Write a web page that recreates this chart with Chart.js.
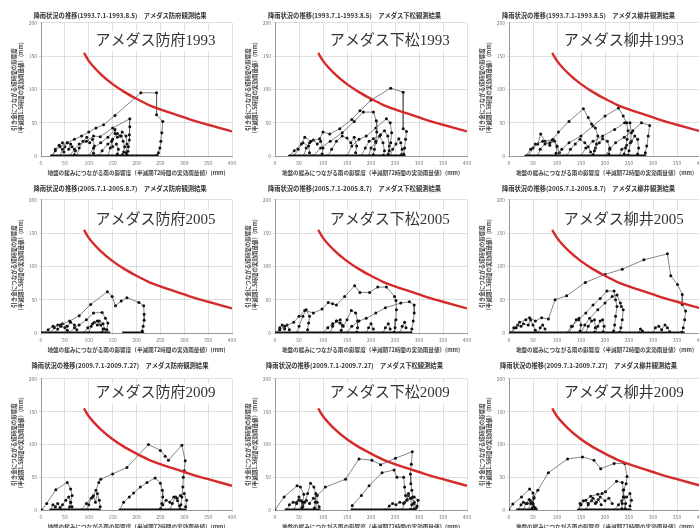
<!DOCTYPE html>
<html>
<head>
<meta charset="utf-8">
<script src="https://cdn.jsdelivr.net/npm/chart.js@4"></script>
<style>
  html, body { margin: 0; padding: 0; background: #fff; overflow: hidden; width: 699px; height: 528px; }
  canvas { position: absolute; }
</style>
</head>
<body>
<script>
// axis ticks
const xTickValues = [0, 50, 100, 150, 200, 250, 300, 350, 400];
const yTickValues = [0, 50, 100, 150, 200];

const stations = ['防府', '下松', '柳井'];
const years = ['1993', '2005', '2009'];
const periods = ['1993.7.1-1993.8.5', '2005.7.1-2005.8.7', '2009.7.1-2009.7.27'];

const xTitle = '地盤の緩みにつながる雨の影響度（半減期72時間の実効雨量値）(mm)';
const yTitle = ['引き金につながる短時間の影響度', '（半減期1.5時間の実効雨量値）(mm)'];

// critical line (red)
const criticalX = [90, 100, 125, 150, 175, 200, 225, 250, 275, 300, 325, 350, 375, 400];
const criticalY = [155, 143, 123, 108, 96, 86, 77, 70, 64, 58, 52, 47, 42, 37];

// snake traces [x, y] per panel
const hofu1993 = [
  [[22,0],[30,8],[40,14],[55,20],[70,25],[85,30],[100,36],[115,42],[131,47],[155,61],[209,95],[242,95],[242,62],[255,52],[253,35],[251,22],[249,12],[246,5],[243,1]],
  [[60,0],[70,10],[80,18],[95,22],[110,30],[124,29],[150,42],[186,56],[186,44],[185,32],[185,24],[183,14],[182,7],[180,2]],
  [[100,0],[110,12],[125,20],[140,28],[155,40],[155,34],[160,28],[168,30],[172,22],[175,14],[173,6],[170,2]],
  [[40,0],[45,10],[55,20],[62,18],[58,10],[65,14],[72,8],[70,2]],
  [[120,0],[128,8],[140,18],[148,22],[150,14],[158,18],[162,10],[160,3]],
  [[25,0],[30,10],[38,16],[45,20],[50,14],[48,6]],
  [[75,0],[80,12],[88,22],[96,28],[102,20],[108,25],[112,15],[110,4]],
  [[140,0],[145,12],[150,25],[160,34],[165,30],[170,36],[178,30],[180,18],[178,5]]
];
const hofu1993Base = [[20, 246]];

const kudamatsu1993 = [
  [[30,0],[40,8],[55,18],[62,28],[75,22],[93,26],[100,36],[114,33],[135,41],[160,55],[177,68],[200,84],[241,102],[267,96],[267,41],[274,37],[272,25],[270,12],[268,3]],
  [[80,0],[95,12],[115,22],[140,35],[165,52],[184,66],[205,66],[211,53],[212,36],[210,22],[207,10],[205,2]],
  [[150,0],[160,15],[175,25],[190,30],[210,42],[232,56],[240,50],[243,35],[241,20],[238,8],[236,1]],
  [[110,0],[118,10],[128,22],[140,30],[150,27],[158,20],[165,28],[170,15],[168,5]],
  [[180,0],[188,12],[196,22],[205,26],[218,30],[225,20],[228,8],[226,1]],
  [[40,0],[48,10],[58,20],[70,15],[72,5]],
  [[60,0],[65,12],[72,20],[80,24],[88,18],[95,22],[100,12],[98,3]],
  [[195,0],[200,12],[210,20],[220,32],[228,38],[235,30],[238,15],[236,3]],
  [[240,0],[245,10],[252,18],[258,26],[262,20],[265,10],[263,2]]
];
const kudamatsu1993Base = [[30, 272]];

const yanai1993 = [
  [[35,0],[45,10],[55,18],[70,22],[90,24],[103,36],[125,52],[155,71],[165,58],[172,48],[180,42],[185,30],[182,18],[178,8],[175,2]],
  [[100,0],[110,10],[125,20],[150,30],[175,45],[200,60],[228,72],[238,60],[245,50],[248,38],[246,25],[243,12],[240,3]],
  [[150,0],[160,12],[175,22],[195,30],[220,40],[241,50],[252,50],[255,35],[253,20],[250,8],[248,1]],
  [[200,0],[210,10],[222,20],[240,28],[258,38],[276,50],[293,46],[290,30],[287,15],[284,5],[282,0]],
  [[40,0],[50,12],[60,18],[66,33],[75,22],[85,16],[92,25],[100,15],[105,5]],
  [[120,0],[128,10],[138,18],[148,25],[158,20],[165,14],[170,6]],
  [[60,0],[65,10],[75,18],[85,20],[95,22],[100,14],[98,4]],
  [[175,0],[180,12],[188,20],[195,26],[205,22],[210,12],[208,3]],
  [[230,0],[235,10],[245,16],[255,22],[262,30],[268,25],[270,12],[268,3]]
];
const yanai1993Base = [[35, 286]];

const hofu2005 = [
  [[5,0],[15,5],[25,10],[40,12],[60,18],[80,26],[104,43],[139,62],[149,55],[156,41],[168,48],[180,53],[205,46],[215,41],[216,28],[216,19],[214,10],[212,3],[210,0]],
  [[60,0],[70,8],[80,12],[95,20],[110,30],[128,31],[135,22],[140,15],[138,5],[136,0]],
  [[20,0],[28,8],[35,12],[45,14],[55,10],[62,16],[70,12],[75,5]],
  [[90,0],[98,8],[108,14],[118,18],[125,12],[130,6],[128,1]],
  [[100,0],[105,10],[112,16],[118,12],[122,18],[130,14],[133,6]],
  [[30,0],[35,6],[42,10],[50,8],[55,4]]
];
const hofu2005Base = [[0, 145], [170, 216]];

const kudamatsu2005 = [
  [[0,0],[10,5],[20,10],[39,16],[50,25],[62,34],[80,30],[98,36],[111,46],[120,44],[128,42],[145,55],[166,71],[177,61],[197,61],[214,69],[232,69],[249,55],[252,49],[253,35],[252,20],[250,8],[248,1]],
  [[150,0],[160,10],[175,18],[190,22],[210,30],[230,38],[262,45],[280,47],[290,42],[290,30],[288,18],[285,6],[283,0]],
  [[45,0],[50,10],[58,25],[65,35],[72,25],[70,15],[68,5]],
  [[100,0],[110,8],[120,14],[128,18],[135,15],[142,10],[150,20],[159,34],[168,30],[172,18],[172,8],[170,1]],
  [[5,0],[10,8],[15,12],[20,6],[25,12],[30,5]],
  [[190,0],[195,8],[200,14],[205,6]],
  [[225,0],[230,8],[236,14],[240,6]],
  [[260,0],[265,10],[270,16],[273,8]],
  [[115,0],[120,10],[128,18],[136,20],[140,12],[138,4]]
];
const kudamatsu2005Base = [[0, 286]];

const yanai2005 = [
  [[5,0],[15,8],[22,16],[35,20],[43,23],[55,18],[68,23],[82,21],[96,50],[120,56],[159,76],[200,88],[236,96],[281,110],[330,119],[337,86],[351,73],[361,58],[361,43],[368,33],[366,20],[363,8],[360,1]],
  [[120,0],[130,10],[145,20],[160,30],[175,42],[190,52],[204,63],[219,63],[222,50],[225,40],[222,25],[220,12],[218,3]],
  [[150,0],[158,12],[168,22],[185,35],[200,45],[215,55],[225,57],[232,45],[234,40],[238,35],[236,20],[233,8],[231,1]],
  [[125,0],[132,10],[140,20],[146,22],[150,12],[148,3]],
  [[160,0],[165,10],[172,18],[178,20],[180,8],[178,1]],
  [[5,0],[10,8],[18,12],[25,10],[30,14],[40,12],[45,20],[50,12],[55,4]],
  [[300,0],[305,8],[312,10],[318,5],[325,12],[330,8],[335,2]],
  [[60,0],[65,8],[70,12],[75,6]],
  [[180,0],[185,10],[190,18],[195,20],[198,10],[196,2]],
  [[270,0],[274,6],[278,3]]
];
const yanai2005Base = [[0, 366]];

const hofu2009 = [
  [[2,0],[12,10],[31,31],[55,42],[62,32],[65,22],[62,12],[60,5],[58,0]],
  [[85,0],[95,10],[108,20],[115,30],[121,42],[125,47],[150,55],[180,65],[225,100],[250,91],[260,82],[267,76],[295,99],[302,75],[300,60],[298,50],[297,35],[295,20],[293,8],[291,1]],
  [[165,0],[173,12],[185,20],[194,26],[208,35],[222,42],[239,49],[250,41],[254,30],[255,20],[253,10],[250,2]],
  [[40,0],[45,8],[52,15],[58,20],[62,12],[65,5]],
  [[95,0],[100,8],[105,18],[110,22],[114,12],[118,25],[122,15],[124,5]],
  [[250,0],[255,8],[262,15],[270,12],[278,20],[285,18],[292,22],[300,25],[305,15],[303,5]],
  [[20,0],[25,8],[30,5],[35,10],[40,4]],
  [[270,0],[275,10],[282,20],[286,14],[290,6]]
];
const hofu2009Base = [[20, 125], [165, 305]];

const kudamatsu2009 = [
  [[0,0],[19,20],[46,37],[53,35],[60,24],[58,12],[56,4]],
  [[55,0],[62,12],[68,25],[74,41],[81,35],[85,25],[84,12],[82,3]],
  [[85,0],[88,22],[105,35],[147,47],[175,78],[202,76],[220,69],[251,79],[286,89],[284,70],[282,55],[283,40],[285,30],[287,20],[289,10],[290,2]],
  [[160,0],[161,7],[180,22],[196,37],[223,57],[248,61],[254,50],[268,50],[270,35],[272,22],[275,15],[278,25],[282,18],[285,8],[283,1]],
  [[25,0],[30,8],[38,12],[45,10],[50,15],[58,8],[65,15],[72,10],[80,18],[88,12],[92,5]],
  [[230,0],[238,6],[245,10],[252,8],[260,12],[268,10],[275,16],[290,20],[298,15],[296,6]],
  [[40,0],[45,12],[50,20],[55,14],[58,5]],
  [[265,0],[270,12],[278,22],[284,18],[290,12],[295,4]]
];
const kudamatsu2009Base = [[20, 95], [160, 295]];

const yanai2009 = [
  [[0,0],[8,9],[26,20],[43,32],[50,26],[52,18],[50,10],[48,3]],
  [[40,0],[45,10],[52,20],[60,30],[82,57],[122,78],[153,81],[177,76],[191,63],[219,71],[241,71],[246,51],[244,40],[239,31],[238,20],[236,10],[235,2]],
  [[145,0],[150,8],[160,15],[170,21],[185,24],[194,25],[201,28],[224,44],[236,42],[238,30],[240,20],[243,10],[242,2]],
  [[145,0],[148,10],[155,14],[165,10],[175,18],[182,12],[190,20],[200,14],[208,18],[215,10]],
  [[220,0],[228,8],[235,14],[245,20],[252,25],[255,15],[252,6]],
  [[20,0],[25,8],[30,12],[38,10],[45,14],[50,8],[55,3]],
  [[30,0],[35,10],[42,16],[48,12],[52,5]],
  [[160,0],[165,8],[172,14],[180,10],[186,16],[192,8]]
];
const yanai2009Base = [[15, 60], [145, 255]];

const FONT = '"Noto Sans CJK JP", "Noto Sans", sans-serif';
Chart.defaults.font.family = FONT;

// layout of the 9 plot areas
const colL = [41, 275, 509];
const colR = [232, 467, 701];
const rowT = [23, 200, 378.5];
const rowB = [156, 333.5, 509.5];
const rowPadT = [16, 20, 22];
const labelY = [173, 170, 178]; // station label position in data units
const padL = 33, padR = 8, padB = 20;

const stationLabel = {
  id: 'stationLabel',
  beforeDatasetsDraw(chart, args, opts) {
    const { ctx, scales: { x, y } } = chart;
    ctx.save();
    ctx.font = '15px "Liberation Serif", "Noto Sans CJK JP"';
    const px = x.getPixelForValue(opts.x);
    const py = y.getPixelForValue(opts.y);
    const w = ctx.measureText(opts.text).width;
    ctx.fillStyle = '#fff';
    ctx.fillRect(px - 3, py - 10, w + 6, 20);
    ctx.fillStyle = '#333';
    ctx.textBaseline = 'middle';
    ctx.fillText(opts.text, px, py);
    ctx.restore();
  }
};

function makePanel(traces, base, col, row) {
  const c = document.createElement('canvas');
  const padT = rowPadT[row];
  const w = colR[col] - colL[col] + padL + padR;
  const h = rowB[row] - rowT[row] + padT + padB;
  c.width = w;
  c.height = h;
  c.style.left = (colL[col] - padL) + 'px';
  c.style.top = (rowT[row] - padT) + 'px';
  document.body.appendChild(c);

  const datasets = [];
  datasets.push({
    data: criticalX.map((x, i) => ({ x: x, y: criticalY[i] })),
    showLine: true, borderColor: '#d42a2a', borderWidth: 2.4, pointRadius: 0,
    cubicInterpolationMode: 'monotone', order: 0
  });
  base.forEach(b => datasets.push({
    data: [{ x: b[0], y: 0 }, { x: b[1], y: 0 }],
    showLine: true, borderColor: '#111', borderWidth: 3, pointRadius: 0, order: 2
  }));
  traces.forEach(t => datasets.push({
    data: t.map(q => ({ x: q[0], y: q[1] })),
    showLine: true, borderColor: '#5e5e5e', borderWidth: 0.75,
    pointRadius: 1.5, pointBackgroundColor: '#111', pointBorderWidth: 0, order: 1
  }));

  const tickFont = { size: 5 };
  new Chart(c, {
    type: 'scatter',
    data: { datasets: datasets },
    plugins: [stationLabel],
    options: {
      responsive: false,
      animation: false,
      events: [],
      layout: { padding: { left: 0, top: 0, right: padR, bottom: 0 } },
      plugins: {
        legend: { display: false },
        tooltip: { enabled: false },
        title: {
          display: true,
          text: '降雨状況の推移(' + periods[row] + ')　アメダス' + stations[col] + '観測結果',
          font: { size: 6.3, weight: 'bold' },
          color: '#333',
          padding: { top: 4.5, bottom: padT - 12.1 }
        },
        stationLabel: { text: 'アメダス' + stations[col] + years[row], x: 114, y: labelY[row] }
      },
      scales: {
        x: {
          type: 'linear', min: 0, max: 400,
          afterBuildTicks: s => { s.ticks = xTickValues.map(v => ({ value: v })); },
          afterFit: s => { s.height = padB; },
          ticks: { font: tickFont, color: '#777', padding: 2, maxRotation: 0, autoSkip: false },
          grid: { color: '#c9c9c9', lineWidth: 0.6, tickLength: 2 },
          border: { color: '#888', width: 0.8 },
          title: { display: true, text: xTitle, font: { size: 5.6, weight: 'bold' }, color: '#444', padding: { top: 0, bottom: 0 } }
        },
        y: {
          type: 'linear', min: 0, max: 200,
          afterBuildTicks: s => { s.ticks = yTickValues.map(v => ({ value: v })); },
          afterFit: s => { s.width = padL; },
          ticks: { font: tickFont, color: '#777', padding: 2, autoSkip: false },
          grid: { color: '#c9c9c9', lineWidth: 0.6, tickLength: 2 },
          border: { color: '#888', width: 0.8 },
          title: { display: true, text: yTitle, font: { size: 5.5, weight: 'bold' }, color: '#444', padding: { top: 2.7, bottom: 0 } }
        }
      }
    }
  });
}

makePanel(hofu1993, hofu1993Base, 0, 0);
makePanel(kudamatsu1993, kudamatsu1993Base, 1, 0);
makePanel(yanai1993, yanai1993Base, 2, 0);
makePanel(hofu2005, hofu2005Base, 0, 1);
makePanel(kudamatsu2005, kudamatsu2005Base, 1, 1);
makePanel(yanai2005, yanai2005Base, 2, 1);
makePanel(hofu2009, hofu2009Base, 0, 2);
makePanel(kudamatsu2009, kudamatsu2009Base, 1, 2);
makePanel(yanai2009, yanai2009Base, 2, 2);
</script>
</body>
</html>
